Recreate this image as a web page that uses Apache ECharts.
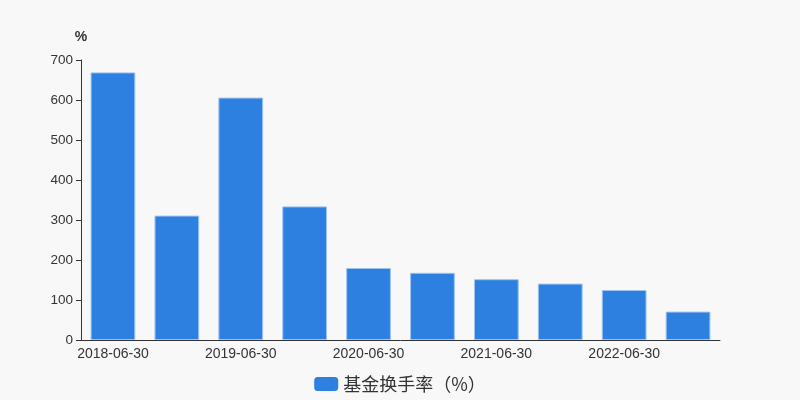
<!DOCTYPE html>
<html><head><meta charset="utf-8">
<script src="https://cdn.jsdelivr.net/npm/echarts@6/dist/echarts.min.js"></script>
<style>html,body{margin:0;padding:0;background:#f8f8f8}#c{width:800px;height:400px}</style>
</head><body><div id="c"></div>
<script>
var categories = ['2018-06-30','2018-12-31','2019-06-30','2019-12-31','2020-06-30','2020-12-31','2021-06-30','2021-12-31','2022-06-30','2022-12-31'];
var turnover = [669, 311, 606, 334, 180, 168, 152, 141, 125, 71];
var seriesName = '基金换手率（%）';
var chart = echarts.init(document.getElementById('c'));
chart.setOption({
  backgroundColor: '#f8f8f8',
  textStyle: {fontFamily: 'Liberation Sans'},
  grid: {left: 81, right: 80, top: 60, bottom: 60},
  legend: {
    bottom: 2, left: 'center',
    itemWidth: 24, itemHeight: 14, icon: 'roundRect', itemGap: 10,
    itemStyle: {borderWidth: 0},
    textStyle: {fontSize: 18, color: '#333', fontFamily: 'Noto Sans CJK SC'},
    data: [seriesName]
  },
  xAxis: {
    type: 'category', data: categories,
    axisLine: {lineStyle: {color: '#333'}},
    axisTick: {interval: 1, lineStyle: {color: '#333'}},
    axisLabel: {interval: 1, color: '#333', fontSize: 14, margin: 7, fontFamily: 'Liberation Sans'}
  },
  yAxis: {
    type: 'value', name: '%', min: 0, max: 700, interval: 100,
    nameTextStyle: {color: '#333', fontSize: 14, fontWeight: 'bold', align: 'center', fontFamily: 'Liberation Sans'},
    nameGap: 16,
    axisLine: {show: true, lineStyle: {color: '#333'}},
    axisTick: {show: true, lineStyle: {color: '#333'}},
    splitLine: {show: false},
    axisLabel: {color: '#333', fontSize: 13.5, fontFamily: 'Liberation Sans'}
  },
  series: [{
    name: seriesName, type: 'bar', data: turnover, barWidth: '70%',
    itemStyle: {color: '#2d80e0', borderColor: '#9cc3f0', borderWidth: 1}
  }]
});
</script></body></html>
